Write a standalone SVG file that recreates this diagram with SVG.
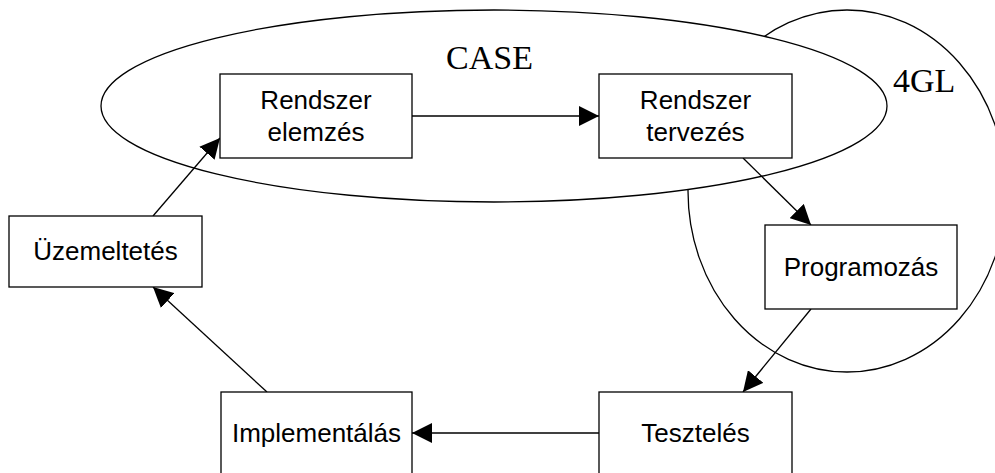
<svg xmlns="http://www.w3.org/2000/svg" width="995" height="473" viewBox="0 0 995 473">
<style>
.box{fill:#fff;stroke:#000;stroke-width:1.3}
.reg{fill:#fff;stroke:#000;stroke-width:1.3}
.lbl{font-family:"Liberation Sans",Arial,sans-serif;font-size:26px;fill:#000;text-anchor:middle}
.ttl{font-family:"Liberation Serif","Times New Roman",serif;font-size:34px;fill:#000}
.con{stroke:#000;stroke-width:1.3;fill:none;marker-end:url(#arr)}
</style>
<defs>
<marker id="arr" markerUnits="userSpaceOnUse" markerWidth="20" markerHeight="20" refX="20" refY="10" orient="auto">
<path d="M0,0 L20,10 L0,20 z" fill="#000"/>
</marker>
</defs>
<rect width="995" height="473" fill="#fff"/>
<g id="region-4gl">
<ellipse class="reg" cx="847" cy="191" rx="159" ry="181"/>
<text class="ttl" x="893" y="92">4GL</text>
</g>
<g id="region-case">
<ellipse class="reg" cx="494" cy="106" rx="393" ry="96"/>
<text class="ttl" x="446" y="69">CASE</text>
</g>
<g id="connectors">
<line class="con" x1="412" y1="116" x2="599" y2="116"/>
<line class="con" x1="743" y1="158" x2="811" y2="225"/>
<line class="con" x1="811" y1="309" x2="743" y2="392"/>
<line class="con" x1="599" y1="433" x2="412" y2="433"/>
<line class="con" x1="267" y1="392" x2="153" y2="287"/>
<line class="con" x1="153" y1="216" x2="220" y2="138"/>
</g>
<g id="node-elemzes">
<rect class="box" x="220" y="74" width="192" height="84"/>
<text class="lbl" x="316" y="109">Rendszer</text>
<text class="lbl" x="316" y="141">elemzés</text>
</g>
<g id="node-tervezes">
<rect class="box" x="599" y="74" width="193" height="84"/>
<text class="lbl" x="695.5" y="109">Rendszer</text>
<text class="lbl" x="695.5" y="141">tervezés</text>
</g>
<g id="node-programozas">
<rect class="box" x="765" y="225" width="192" height="84"/>
<text class="lbl" x="861" y="276">Programozás</text>
</g>
<g id="node-teszteles">
<rect class="box" x="599" y="392" width="193" height="84"/>
<text class="lbl" x="695.5" y="442">Tesztelés</text>
</g>
<g id="node-implementalas">
<rect class="box" x="221" y="392" width="191" height="84"/>
<text class="lbl" x="316.5" y="442">Implementálás</text>
</g>
<g id="node-uzemeltetes">
<rect class="box" x="9" y="216" width="193" height="71"/>
<text class="lbl" x="105.5" y="260">Üzemeltetés</text>
</g>
</svg>
